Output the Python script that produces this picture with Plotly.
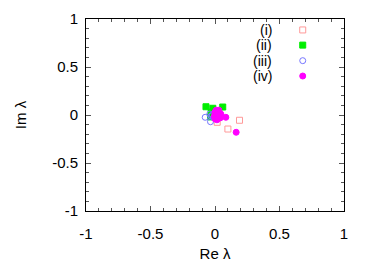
import plotly.graph_objects as go

# Data (Re, Im) per series
re_i = [0.19, 0.10, 0.017, 0.0, 0.01, -0.01]
im_i = [-0.055, -0.146, -0.076, 0.0, -0.02, 0.01]

re_ii = [-0.07, -0.017, 0.06, -0.035, 0.0, -0.02, -0.03]
im_ii = [0.086, 0.07, 0.083, -0.02, 0.0, 0.02, 0.03]

re_iii = [-0.076, -0.035, -0.02, -0.01, -0.04, 0.0, -0.03]
im_iii = [-0.024, -0.07, 0.0, -0.03, 0.01, 0.02, -0.01]

re_iv = [0.084, 0.164, 0.0, 0.02, 0.03, 0.035, 0.02, 0.0, -0.005, 0.01, 0.04, 0.015, 0.03, 0.045, 0.01]
im_iv = [-0.024, -0.18, 0.03, 0.04, 0.02, 0.0, -0.03, -0.04, -0.01, 0.0, -0.03, -0.05, 0.05, 0.01, 0.05]

labels = ["(i)", "(ii)", "(iii)", "(iv)"]
x_ticks = [-1, -0.5, 0, 0.5, 1]
y_ticks = [-1, -0.5, 0, 0.5, 1]

FONT = "Liberation Sans"

styles = [
    dict(symbol="square-open", color="#ff9999", size=6),
    dict(symbol="square", color="#00ee00", size=6),
    dict(symbol="circle-open", color="#7777ff", size=6),
    dict(symbol="circle", color="#ff00ff", size=6),
]
series = [(re_i, im_i), (re_ii, im_ii), (re_iii, im_iii), (re_iv, im_iv)]

fig = go.Figure()
for (xs, ys), st in zip(series, styles):
    fig.add_trace(go.Scatter(
        x=xs, y=ys, mode="markers",
        marker=dict(symbol=st["symbol"], color=st["color"], size=st["size"],
                    line=dict(width=1, color=st["color"])),
        showlegend=False, hoverinfo="skip"))

# custom gnuplot-like legend (text right-aligned, sample on the right)
leg_y = [0.943, 0.864, 0.783, 0.703]
for lab, st, ly in zip(labels, styles, leg_y):
    fig.add_trace(go.Scatter(
        x=[0.84], y=[ly], xaxis="x2", yaxis="y2", mode="markers",
        marker=dict(symbol=st["symbol"], color=st["color"], size=st["size"],
                    line=dict(width=1, color=st["color"])),
        showlegend=False, hoverinfo="skip"))
    fig.add_annotation(x=0.73, y=ly, xref="paper", yref="paper", text=lab,
                       showarrow=False, xanchor="right", yanchor="middle",
                       font=dict(size=14, color="black", family=FONT))

axis_common = dict(
    showgrid=False, zeroline=False, showline=True, linecolor="black", linewidth=1,
    mirror="ticks", ticks="inside", ticklen=5, tickcolor="#555", tickwidth=1,
    minor=dict(ticks="inside", ticklen=3, dtick=0.1, tickcolor="#555", showgrid=False),
    tickfont=dict(size=15, color="black", family=FONT),
    automargin=False,
)

fig.update_layout(
    width=374, height=262,
    margin=dict(l=86, r=30, t=19, b=51),
    paper_bgcolor="white", plot_bgcolor="white",
    xaxis=dict(range=[-1, 1], tickvals=x_ticks, ticktext=[str(v) for v in x_ticks],
               title=dict(text="Re λ", font=dict(size=15, color="black", family=FONT), standoff=10),
               ticklabelstandoff=9, **axis_common),
    yaxis=dict(range=[-1, 1], tickvals=y_ticks, ticktext=[str(v) for v in y_ticks],
               title=dict(text="Im λ", font=dict(size=15, color="black", family=FONT), standoff=21),
               ticklabelstandoff=4, **axis_common),
    xaxis2=dict(range=[0, 1], overlaying="x", visible=False),
    yaxis2=dict(range=[0, 1], overlaying="y", visible=False),
)

fig.write_html("out.html", config={"displayModeBar": False},
               post_script="document.body.style.margin='0px';")
